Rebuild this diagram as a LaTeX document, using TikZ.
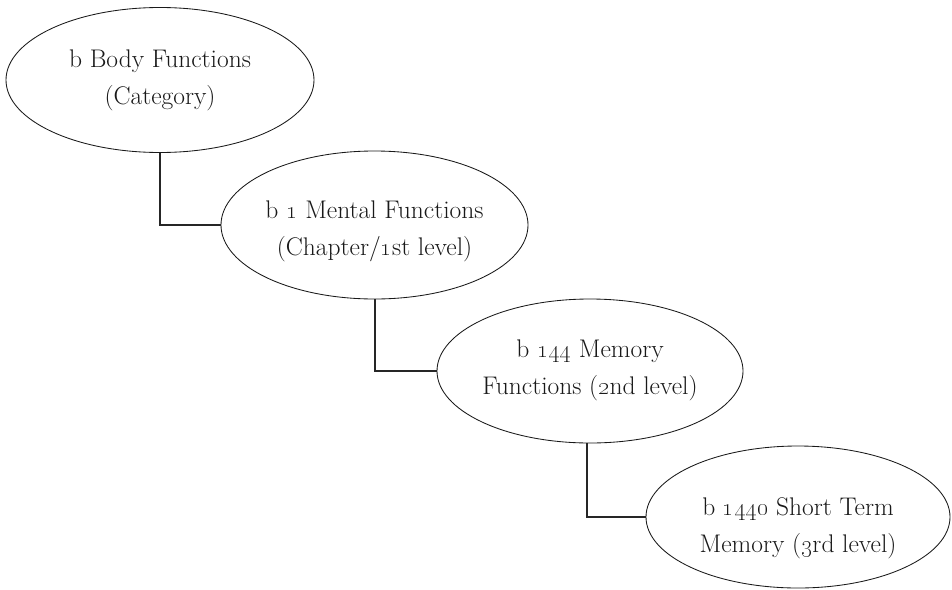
\documentclass[tikz,border=0pt]{standalone}
\usetikzlibrary{shapes.geometric}
\begin{document}
\begin{tikzpicture}[x=1pt,y=-1pt,
  lvl/.style={draw=black!90, line width=0.85pt, ellipse, inner sep=0pt},
  lbl/.style={align=center, inner sep=0pt, text=black!90,
    font=\fontsize{25.5}{37}\selectfont},
  conn/.style={draw=black!85, line width=2pt}]
\useasboundingbox (0,0) rectangle (952,589);
\node[lvl, minimum width=308pt, minimum height=145pt] (e1) at (160,80) {};
\node[lvl, minimum width=307pt, minimum height=148pt] (e2) at (374.5,225) {};
\node[lvl, minimum width=306pt, minimum height=144pt] (e3) at (590,371) {};
\node[lvl, minimum width=304pt, minimum height=142pt] (e4) at (798,517) {};
\node[lbl] (t1) at (160,80) {b Body Functions\\(Category)};
\node[lbl] (t2) at (374.5,231) {b \oldstylenums{1} Mental Functions\\(Chapter/\oldstylenums{1}st level)};
\node[lbl] (t3) at (590,370) {b \oldstylenums{144} Memory\\Functions (\oldstylenums{2}nd level)};
\node[lbl] (t4) at (798,528) {b \oldstylenums{1440} Short Term\\Memory (\oldstylenums{3}rd level)};
\draw[conn] (e1.south) |- (e2.west);
\draw[conn] (e2.south) |- (e3.west);
\draw[conn] (e3.268) |- (e4.west);
\end{tikzpicture}
\end{document}
